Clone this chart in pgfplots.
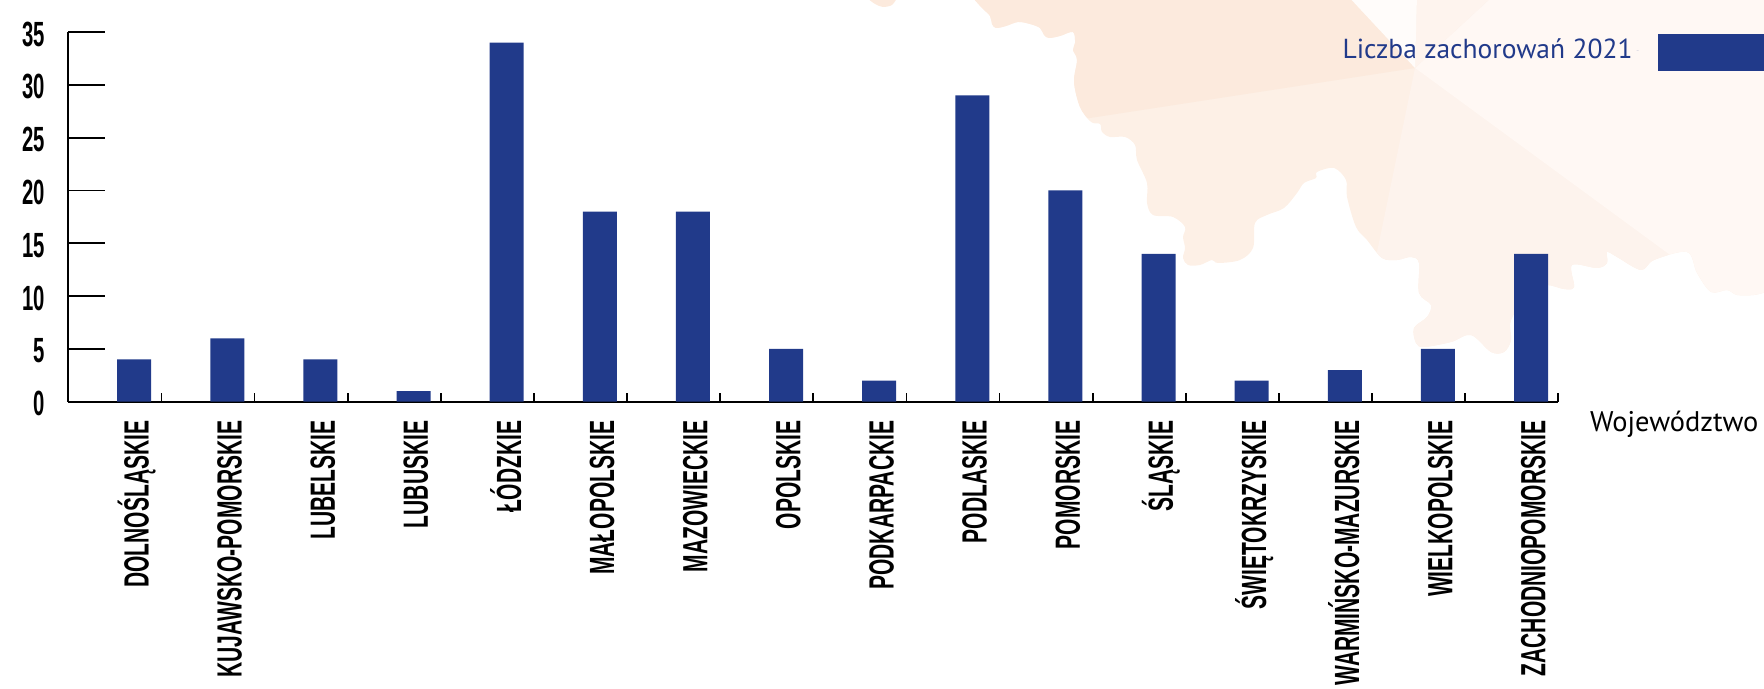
\documentclass[border=0pt]{standalone}
\usepackage{pgfplots}
\pgfplotsset{compat=1.18}
\usepackage{fontspec}
\setmainfont{PT Sans}
\newfontfamily\cond[FakeStretch=0.60]{Liberation Sans}
\newfontfamily\condn[FakeStretch=0.58]{Liberation Sans}
\definecolor{barblue}{HTML}{213A8A}
\definecolor{mapA}{HTML}{FCEADD}
\definecolor{mapB}{HTML}{FDF0E6}
\definecolor{mapC}{HTML}{FDF3ED}
\definecolor{mapD}{HTML}{FFF8F4}
\definecolor{mapE}{HTML}{FFFCFA}
\definecolor{mapF}{HTML}{FEF4EE}
\begin{document}
\begin{tikzpicture}
\path[use as bounding box] (-34.15pt,-143.65pt) rectangle (847.85pt,200.85pt);
\clip (-34.15pt,-143.65pt) rectangle (847.85pt,200.85pt);
\begin{scope}[x=0.5pt,y=-0.5pt,shift={(-68.3,-401.7)}]
\def\outline{plot[smooth,tension=0.55] coordinates {(973,-2) (982,8) (990,16) (992,24) (996,28) (1006,26) (1018,22) (1030,24) (1040,28) (1044,35) (1049,38) (1060,36) (1073,32) (1075,43) (1073,50) (1077,60) (1074,82) (1080,107) (1091,122) (1100,124) (1102,132) (1110,137) (1125,137) (1135,145) (1137,160) (1147,183) (1147,203) (1153,215) (1173,217) (1185,227) (1183,237) (1185,248) (1183,258) (1188,265) (1200,265) (1212,260) (1218,263) (1240,260) (1253,248) (1255,223) (1267,215) (1284,208) (1297,193) (1304,183) (1316,178) (1317,172) (1334,168) (1346,180) (1347,197) (1356,227) (1367,240) (1382,258) (1397,260) (1411,257) (1419,263) (1419,293) (1431,305) (1427,317) (1414,328) (1416,343) (1424,347) (1451,342) (1471,335) (1491,352) (1504,352) (1511,340) (1511,320) (1530,290) (1547,285) (1564,289) (1574,287) (1572,265) (1597,268) (1607,263) (1607,252) (1617,257) (1641,270) (1654,260) (1687,252) (1697,273) (1711,292) (1727,290) (1737,295) (1754,295) (1766,292)} -- (1766,-2) -- cycle}
\begin{scope}
\clip \outline;
\fill[mapB] (960,-5) rectangle (1770,360);
\fill[mapA] (1415,68) -- (1347,-5) -- (960,-5) -- (960,130) -- (1090,118) -- cycle;
\fill[mapC] (1415,68) -- (1377,252) -- (1370,360) -- (1670,360) -- (1670,255) -- cycle;
\fill[mapD] (1415,68) -- (1670,255) -- (1670,360) -- (1770,360) -- (1770,-5) -- (1494,-5) -- cycle;
\fill[mapF] (1415,68) -- (1494,-5) -- (1417,-5) -- cycle;
\fill[mapE] (1415,68) -- (1417,-5) -- (1347,-5) -- cycle;
\end{scope}
\fill[mapA] plot[smooth] coordinates {(867,-2) (875,4) (883,7) (892,5) (897,-2)} -- cycle;
\end{scope}
\begin{axis}[
  at={(0,0)}, anchor=south west,
  scale only axis,
  width=745pt, height=184.85pt,
  xmin=-0.707, xmax=15.293, ymin=0, ymax=35,
  axis x line=bottom, axis y line=left,
  axis line style={-, line width=0.9pt, black},
  tick style={line width=0.9pt, black},
  xtick={0,...,15},
  xticklabels={DOLNOŚLĄSKIE,KUJAWSKO-POMORSKIE,LUBELSKIE,LUBUSKIE,ŁÓDZKIE,MAŁOPOLSKIE,MAZOWIECKIE,OPOLSKIE,PODKARPACKIE,PODLASKIE,POMORSKIE,ŚLĄSKIE,ŚWIĘTOKRZYSKIE,WARMIŃSKO-MAZURSKIE,WIELKOPOLSKIE,ZACHODNIOPOMORSKIE},
  major x tick style={draw=none},
  minor xtick={0.293,1.293,2.293,3.293,4.293,5.293,6.293,7.293,8.293,9.293,10.293,11.293,12.293,13.293,14.293,15.293},
  minor tick length=4.5pt,
  minor x tick style={draw=black, line width=0.9pt},
  ytick={0,5,...,35},
  tick align=inside,
  major tick length=18.5pt,
  /pgf/number format/assume math mode=true,
  xticklabel shift=6pt,
  xticklabel style={xshift=7.2pt, rotate=90, anchor=base east, font=\cond\bfseries\fontsize{17.5}{18}\selectfont, black},
  yticklabel style={font=\condn\bfseries\fontsize{17.5}{18}\selectfont, black, xshift=-8pt, yshift=-1pt},
  legend plot pos=right,
  legend cell align=right,
  legend style={at={(rel axis cs:0.8525,0.9957)}, anchor=north west, draw=none, fill=none, inner sep=0pt, outer sep=0pt, font=\fontsize{13.76}{15}\selectfont\color{barblue}},
  legend image code/.code={\path (0pt,0pt) -- (1pt,0pt); \fill[barblue] (10.7pt,-10pt) rectangle (90pt,8.5pt);},
  clip=false,
]
\addplot[ybar, bar width=17pt, fill=barblue, draw=none, bar shift=0pt] coordinates {
(0,4) (1,6) (2,4) (3,1) (4,34) (5,18) (6,18) (7,5) (8,2) (9,29) (10,20) (11,14) (12,2) (13,3) (14,5) (15,14)};
\addlegendentry{Liczba zachorowań 2021}
\node[anchor=base west, font=\fontsize{14.2}{15}\selectfont, black, inner sep=0pt] at (axis description cs:1.021,-0.081) {Województwo};
\end{axis}
\end{tikzpicture}
\end{document}
